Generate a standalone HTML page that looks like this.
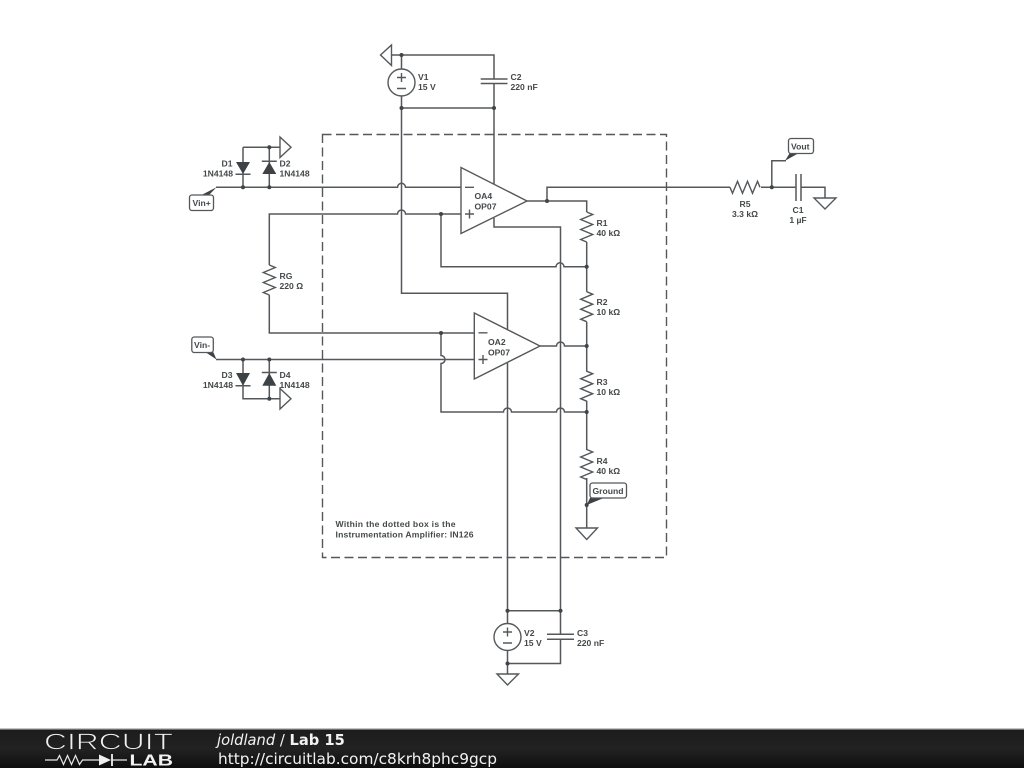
<!DOCTYPE html>
<html><head><meta charset="utf-8"><style>
html,body{margin:0;padding:0;background:#fff;width:1024px;height:768px;overflow:hidden}
svg{display:block}
.w{fill:none;stroke:#55585a;stroke-width:1.5}
.s{fill:none;stroke:#55585a;stroke-width:1.4;stroke-linejoin:miter}
.t{font:bold 8.6px "Liberation Sans",sans-serif;fill:#44484a}
.l{font:bold 8.6px "Liberation Sans",sans-serif;fill:#44484a}
.b{fill:#fff;stroke:#55585a;stroke-width:1.3}
.d{fill:#3c4347}
</style></head><body>
<svg width="1024" height="768" viewBox="0 0 1024 768" xmlns="http://www.w3.org/2000/svg">
<defs>
<linearGradient id="g" x1="0" y1="0" x2="0" y2="1"><stop offset="0" stop-color="#1c1c1c"/><stop offset=".5" stop-color="#222"/><stop offset="1" stop-color="#0e0e0e"/></linearGradient>
<filter id="bl" filterUnits="userSpaceOnUse" x="0" y="0" width="1024" height="728"><feGaussianBlur stdDeviation="0.35"/></filter>
</defs>
<rect width="1024" height="768" fill="#fff"/>
<g filter="url(#bl)">
<!-- dashed box -->
<rect x="322.5" y="134.500" width="344" height="423" fill="none" stroke="#55585a" stroke-width="1.4" stroke-dasharray="9 4.500"/>

<!-- wires -->
<path class="w" d="M391.500 55H494V79M494 83.500V184M401.500 55V69M401.500 96V293.300H507.500V329M401.500 108H494"/>
<path class="w" d="M216 187.300H397.500a4 4 0 0 1 8 0H461"/>
<path class="w" d="M269.300 265V214H397.500a4 4 0 0 1 8 0H461M269.300 295V333H474.300"/>
<path class="w" d="M441 214V266.800H556a4 4 0 0 1 8 0H586.700"/>
<path class="w" d="M441 333V355.500a4 4 0 0 1 0 8V412H503.500a4 4 0 0 1 8 0H556.500a4 4 0 0 1 8 0H586.700"/>
<path class="w" d="M216 359.500H474.300"/>
<path class="w" d="M527 201H586.700V212M547 201V187.300H730M586.700 242V291.700M586.700 321.700V371.700M586.700 400.700V450M586.700 478V528"/>
<path class="w" d="M540 346H556.500a4 4 0 0 1 8 0H586.700"/>
<path class="w" d="M494 218V227H560.500V634.300M560.500 639.300V663.500H507.500M507.500 363V623.500M507.500 610.700H560.500M507.500 650.500V674"/>
<path class="w" d="M761 187.300H796M801 187.300H825V198M771.800 187.300V160.700H786"/>
<path class="w" d="M243 147.300H280M243 147.300V187.300M269.300 147.300V187.300M243 359.500V398.700H280M269.300 359.500V398.700"/>

<!-- resistors -->
<path class="s" d="M586.700 212l6 2.500-12 5 12 5-12 5 12 5-12 5 6 2.500"/>
<path class="s" d="M586.700 291.700l6 2.500-12 5 12 5-12 5 12 5-12 5 6 2.500"/>
<path class="s" d="M586.700 371.200l6 2.500-12 5 12 5-12 5 12 5-12 5 6 2.500"/>
<path class="s" d="M586.700 449.500l6 2.500-12 5 12 5-12 5 12 5-12 5 6 2.500"/>
<path class="s" d="M269.300 265l6 2.500-12 5 12 5-12 5 12 5-12 5 6 2.500"/>
<path class="s" d="M730 187.300l2.500 6 5-12 5 12 5-12 5 12 5-12 2.500 6"/>

<!-- capacitors -->
<path class="w" d="M480.700 79H507.500M480.700 83.500H507.500M547 634.300H574M547 639.300H574M796 174V201M801 174V201"/>

<!-- sources -->
<circle class="s" cx="401.500" cy="82.500" r="13.500" style="fill:#fff"/>
<path class="s" d="M397 77.500h9M401.500 73v9M397 88.500h9"/>
<circle class="s" cx="507.500" cy="637" r="13.500" style="fill:#fff"/>
<path class="s" d="M503 632h9M507.500 627.500v9M503 643h9"/>

<!-- op amps -->
<path class="s" d="M461 167.500V233.500L527 201Z"/>
<path class="s" d="M465 187.300h9M465 214h9M469.500 209.500v9"/>
<path class="s" d="M474.300 313V379L540 346Z"/>
<path class="s" d="M478.500 332.800h9M478.500 359.500h9M483 355v9"/>

<!-- diodes -->
<path class="d" d="M236 162H250L243 174ZM262.300 174H276.300L269.300 162ZM236 373H250L243 385.700ZM262.300 385.700H276.300L269.300 373Z"/>
<path class="w" d="M235.500 174.300H250.500M261.800 161.300H276.800M235.500 385.700H250.500M261.800 372.500H276.800"/>

<!-- grounds -->
<path class="s" d="M380.500 55L391.500 45V65.500Z" style="fill:#fff"/>
<path class="s" d="M280 137L291 147.300L280 157.500Z" style="fill:#fff"/>
<path class="s" d="M280 388.500L291 398.700L280 409Z" style="fill:#fff"/>
<path class="s" d="M814 198H836L825 209Z" style="fill:#fff"/>
<path class="s" d="M576 528H597.500L586.700 539.500Z" style="fill:#fff"/>
<path class="s" d="M497 674H518.500L507.500 685Z" style="fill:#fff"/>

<!-- junctions -->
<g fill="#3f4446">
<circle cx="401.500" cy="55" r="2"/><circle cx="401.500" cy="108" r="2"/><circle cx="494" cy="108" r="2"/>
<circle cx="269.300" cy="147.300" r="2"/><circle cx="243" cy="187.300" r="2"/><circle cx="269.300" cy="187.300" r="2"/>
<circle cx="441" cy="214" r="2"/><circle cx="547" cy="201" r="2"/><circle cx="586.700" cy="266.800" r="2"/>
<circle cx="441" cy="333" r="2"/><circle cx="586.700" cy="346" r="2"/><circle cx="586.700" cy="412" r="2"/>
<circle cx="243" cy="359.500" r="2"/><circle cx="269.300" cy="359.500" r="2"/><circle cx="269.300" cy="398.700" r="2"/>
<circle cx="586.700" cy="505" r="2"/><circle cx="771.800" cy="187.300" r="2"/>
<circle cx="507.500" cy="610.700" r="2"/><circle cx="560.500" cy="610.700" r="2"/><circle cx="507.500" cy="663.500" r="2"/>
</g>

<!-- wire label flags -->
<path class="d" d="M216.500 187.300L201.500 195L209 195Z"/>
<rect class="b" x="189.500" y="195" width="24" height="15.500" rx="2.500"/>
<text class="l" x="192.500" y="205.800">Vin+</text>
<path class="d" d="M216.500 359.500L204.500 351.500L213 351.500Z"/>
<rect class="b" x="191.800" y="337" width="21.500" height="15.500" rx="2.500"/>
<text class="l" x="194" y="348">Vin-</text>
<path class="d" d="M785 160.700L789.500 153.500L798 153.500Z"/>
<rect class="b" x="788.500" y="138.500" width="25" height="15" rx="2.500"/>
<text class="l" x="791" y="149.500">Vout</text>
<path class="d" d="M586.700 505L590 498L605 497.500Z"/>
<rect class="b" x="590" y="483" width="36.500" height="15" rx="2.500"/>
<text class="l" x="592.500" y="494">Ground</text>

<!-- labels -->
<text class="t" x="418" y="80">V1</text><text class="t" x="418" y="90">15 V</text>
<text class="t" x="510.500" y="80">C2</text><text class="t" x="510.500" y="90">220 nF</text>
<text class="t" x="474.500" y="199">OA4</text><text class="t" x="474.500" y="209.500">OP07</text>
<text class="t" x="488" y="345">OA2</text><text class="t" x="488" y="355.500">OP07</text>
<text class="t" x="232.500" y="166.500" text-anchor="end">D1</text><text class="t" x="233" y="176.500" text-anchor="end">1N4148</text>
<text class="t" x="279.500" y="166.500">D2</text><text class="t" x="279.500" y="176.500">1N4148</text>
<text class="t" x="232.500" y="378" text-anchor="end">D3</text><text class="t" x="233" y="388" text-anchor="end">1N4148</text>
<text class="t" x="279.500" y="378">D4</text><text class="t" x="279.500" y="388">1N4148</text>
<text class="t" x="279.500" y="279">RG</text><text class="t" x="279.500" y="289">220 Ω</text>
<text class="t" x="596.500" y="226">R1</text><text class="t" x="596.500" y="236">40 kΩ</text>
<text class="t" x="596.500" y="305">R2</text><text class="t" x="596.500" y="315">10 kΩ</text>
<text class="t" x="596.500" y="385">R3</text><text class="t" x="596.500" y="395">10 kΩ</text>
<text class="t" x="596.500" y="464">R4</text><text class="t" x="596.500" y="474">40 kΩ</text>
<text class="t" x="745" y="207" text-anchor="middle">R5</text><text class="t" x="745" y="217" text-anchor="middle">3.3 kΩ</text>
<text class="t" x="798" y="213" text-anchor="middle">C1</text><text class="t" x="798" y="223" text-anchor="middle">1 µF</text>
<text class="t" x="524" y="636">V2</text><text class="t" x="524" y="646">15 V</text>
<text class="t" x="577" y="636">C3</text><text class="t" x="577" y="646">220 nF</text>
<text class="t" x="335.500" y="527" textLength="120" lengthAdjust="spacing">Within the dotted box is the</text>
<text class="t" x="335.500" y="537.500" textLength="138" lengthAdjust="spacing">Instrumentation Amplifier: IN126</text>
</g>

<!-- footer -->
<rect x="0" y="728" width="1024" height="1.500" fill="#c4c4c4"/>
<rect x="0" y="729.500" width="1024" height="38.500" fill="url(#g)"/>
<text x="44" y="749.500" textLength="129" lengthAdjust="spacingAndGlyphs" style="font:23.500px 'Liberation Sans',sans-serif;fill:#f0f0f0;stroke:#1e1e1e;stroke-width:.8">CIRCUIT</text>
<path d="M45 760H57l2.500-4.500 4 9 4-9 4 9 4-9 4 9 3-4.500H100M112 760H127" fill="none" stroke="#e8e8e8" stroke-width="1.200"/>
<path d="M99 754.500V765.500L111 760Z" fill="#f0f0f0"/><path d="M112 754V766" stroke="#f0f0f0" stroke-width="1.800"/>
<text x="129.500" y="765.500" textLength="43.500" lengthAdjust="spacingAndGlyphs" style="font:bold 15.500px 'Liberation Sans',sans-serif;fill:#f2f2f2">LAB</text>
<text x="217" y="745" style="font:italic 14.700px 'DejaVu Sans',sans-serif;fill:#f2f2f2">joldland <tspan style="font-style:normal">/</tspan> <tspan style="font-style:normal;font-weight:bold">Lab 15</tspan></text>
<text x="218" y="764" textLength="279" lengthAdjust="spacingAndGlyphs" style="font:15.500px 'DejaVu Sans',sans-serif;fill:#f2f2f2">http://circuitlab.com/c8krh8phc9gcp</text>
</svg>
</body></html>
